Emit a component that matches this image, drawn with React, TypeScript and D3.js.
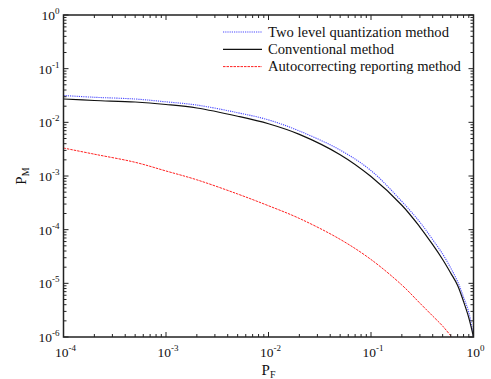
import * as d3 from 'd3'

// P_F sample points (shared by the two upper curves)
const pf = [1e-4, 2e-4, 5e-4, 1e-3, 2e-3, 5e-3, 1e-2, 2e-2, 5e-2, 0.1, 0.2, 0.3, 0.4, 0.5, 0.6, 0.7, 0.8, 0.9, 1.0]

const twoLevel = [3.16e-2, 2.93e-2, 2.72e-2, 2.41e-2, 2.1e-2, 1.51e-2, 1.11e-2, 6.9e-3, 3.04e-3, 1.26e-3, 3.35e-4, 1.38e-4, 6.5e-5, 3.52e-5, 1.92e-5, 1.08e-5, 5.5e-6, 2.88e-6, 1e-6]
const conventional = [2.72e-2, 2.55e-2, 2.39e-2, 2.15e-2, 1.85e-2, 1.3e-2, 9.4e-3, 5.96e-3, 2.49e-3, 9.75e-4, 2.85e-4, 1.12e-4, 5.25e-5, 2.78e-5, 1.55e-5, 9.16e-6, 4.57e-6, 2.28e-6, 1e-6]

const pfAuto = [1e-4, 2e-4, 5e-4, 1e-3, 2e-3, 5e-3, 1e-2, 2e-2, 5e-2, 0.1, 0.2, 0.3, 0.4, 0.5, 0.613]
const autocorrecting = [3.32e-3, 2.55e-3, 1.8e-3, 1.24e-3, 8.49e-4, 4.62e-4, 2.79e-4, 1.62e-4, 6.6e-5, 2.78e-5, 9.3e-6, 4.27e-6, 2.46e-6, 1.6e-6, 1e-6]

const xExps = [-4, -3, -2, -1, 0]
const yExps = [0, -1, -2, -3, -4, -5, -6]

const series = [
  { name: 'Two level quantization method', xs: pf, ys: twoLevel, color: '#4b4bff', dash: '1.2,1', width: 1.1 },
  { name: 'Conventional method', xs: pf, ys: conventional, color: '#111', dash: null, width: 1.2 },
  { name: 'Autocorrecting reporting method', xs: pfAuto, ys: autocorrecting, color: '#ff2020', dash: '2.5,1', width: 1 },
]

const W = 491
const H = 379
const margin = { top: 15, right: 17.5, bottom: 42, left: 63.5 }
const FONT = '"Liberation Serif", "Times New Roman", serif'

// minor ticks 2..9 inside each decade
function minors(lo: number, hi: number) {
  const out: number[] = []
  for (let e = lo; e < hi; e++) for (let k = 2; k <= 9; k++) out.push(k * Math.pow(10, e))
  return out
}

function Pow({ x, y, e, anchor }: { x: number; y: number; e: number; anchor: string }) {
  return (
    <text x={x} y={y} textAnchor={anchor} fontFamily={FONT} fontSize={13.5} fill="#111">
      10<tspan fontSize={9} dy={-6}>{e === 0 ? '0' : `-${-e}`}</tspan>
    </text>
  )
}

export default function App() {
  const innerW = W - margin.left - margin.right
  const innerH = H - margin.top - margin.bottom
  const x = d3.scaleLog().domain([1e-4, 1]).range([margin.left, margin.left + innerW])
  const y = d3.scaleLog().domain([1e-6, 1]).range([margin.top + innerH, margin.top])
  const x0 = margin.left, x1 = margin.left + innerW
  const y0 = margin.top + innerH, y1 = margin.top

  const line = d3.line<[number, number]>()
    .x((d) => x(d[0]))
    .y((d) => y(d[1]))
    .curve(d3.curveCatmullRom.alpha(0.5))

  const xMinor = minors(-4, 0)
  const yMinor = minors(-6, 0)

  return (
    <svg width={W} height={H} style={{ position: 'absolute', left: 0, top: 0 }}>
      <rect width={W} height={H} fill="#fff" />
      <defs>
        <clipPath id="plot">
          <rect x={x0} y={y1} width={innerW} height={innerH + 1} />
        </clipPath>
      </defs>

      {/* curves */}
      <g clipPath="url(#plot)">
        {series.map((s) => (
          <path key={s.name}
            d={line(s.xs.map((v, i) => [v, s.ys[i]] as [number, number])) || ''}
            fill="none" stroke={s.color} strokeWidth={s.width}
            strokeDasharray={s.dash || undefined} />
        ))}
      </g>

      {/* ticks, inward on all four sides */}
      <g stroke="#222" strokeWidth={1}>
        {xExps.map((e) => {
          const px = x(Math.pow(10, e))
          return (
            <g key={'xm' + e}>
              <line x1={px} x2={px} y1={y0} y2={y0 - 5} />
              <line x1={px} x2={px} y1={y1} y2={y1 + 5} />
            </g>
          )
        })}
        {xMinor.map((v, i) => (
          <g key={'xn' + i}>
            <line x1={x(v)} x2={x(v)} y1={y0} y2={y0 - 3} />
            <line x1={x(v)} x2={x(v)} y1={y1} y2={y1 + 3} />
          </g>
        ))}
        {yExps.map((e) => {
          const py = y(Math.pow(10, e))
          return (
            <g key={'ym' + e}>
              <line x1={x0} x2={x0 + 5} y1={py} y2={py} />
              <line x1={x1} x2={x1 - 5} y1={py} y2={py} />
            </g>
          )
        })}
        {yMinor.map((v, i) => (
          <g key={'yn' + i}>
            <line x1={x0} x2={x0 + 3} y1={y(v)} y2={y(v)} />
            <line x1={x1} x2={x1 - 3} y1={y(v)} y2={y(v)} />
          </g>
        ))}
      </g>

      {/* frame */}
      <rect x={x0} y={y1} width={innerW} height={innerH} fill="none" stroke="#222" strokeWidth={1.5} />

      {/* tick labels */}
      {xExps.map((e) => (
        <Pow key={'xl' + e} x={x(Math.pow(10, e)) + 2} y={y0 + 20} e={e} anchor="middle" />
      ))}
      {yExps.map((e) => (
        <Pow key={'yl' + e} x={x0 - 4} y={y(Math.pow(10, e)) + 5} e={e} anchor="end" />
      ))}

      {/* axis titles */}
      <text x={(x0 + x1) / 2} y={375} textAnchor="middle" fontFamily={FONT} fontSize={15} fill="#111">
        P<tspan fontSize={10} dy={3}>F</tspan>
      </text>
      <text transform={`translate(26,${(y0 + y1) / 2}) rotate(-90)`} textAnchor="middle" fontFamily={FONT} fontSize={15} fill="#111">
        P<tspan fontSize={10} dy={3}>M</tspan>
      </text>

      {/* legend */}
      {series.map((s, i) => {
        const ly = 32 + i * 17.3
        return (
          <g key={'lg' + i}>
            <line x1={223} x2={262} y1={ly} y2={ly} stroke={s.color} strokeWidth={s.width}
              strokeDasharray={s.dash || undefined} />
            <text x={268} y={ly + 4.5} fontFamily={FONT} fontSize={14.6} fill="#111">{s.name}</text>
          </g>
        )
      })}
    </svg>
  )
}
